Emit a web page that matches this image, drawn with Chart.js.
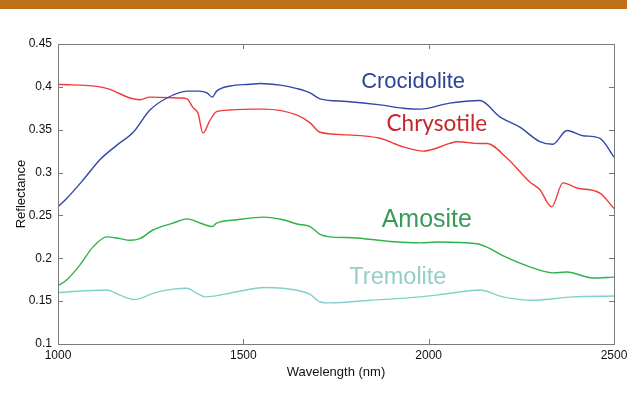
<!DOCTYPE html>
<html><head><meta charset="utf-8">
<script src="https://cdn.jsdelivr.net/npm/chart.js@4.4.0/dist/chart.umd.min.js"></script>
<style>
html,body{margin:0;padding:0;background:#fff;}
#banner{position:absolute;left:0;top:0;width:627px;height:9px;background:#BE7119;}
#wrap{position:absolute;left:0;top:0;width:627px;height:397px;}
</style></head>
<body>
<div id="wrap"><canvas id="c" width="627" height="397"></canvas></div>
<div id="banner"></div>
<script>
const xTicks = [1000, 1500, 2000, 2500];
const yTicks = [0.1, 0.15, 0.2, 0.25, 0.3, 0.35, 0.4, 0.45];

const crocidoliteX = [1000,1024,1067,1113,1159,1203,1248,1294,1348,1380,1402,1416,1428,1464,1518,1545,1600,1645,1680,1707,1779,1869,1931,1977,2057,2138,2192,2246,2300,2335,2373,2416,2462,2500];
const crocidoliteY = [0.260,0.270,0.291,0.315,0.332,0.347,0.373,0.387,0.395,0.395,0.393,0.388,0.395,0.401,0.403,0.404,0.402,0.398,0.393,0.386,0.383,0.379,0.375,0.374,0.381,0.384,0.365,0.353,0.336,0.333,0.349,0.343,0.340,0.318];

const chrysotileX = [1000,1113,1140,1194,1221,1248,1329,1348,1364,1378,1391,1410,1428,1464,1518,1555,1645,1680,1707,1779,1869,1931,1985,2057,2076,2138,2157,2211,2273,2300,2332,2362,2400,2462,2500];
const chrysotileY = [0.403,0.400,0.397,0.387,0.385,0.388,0.387,0.386,0.376,0.369,0.346,0.361,0.371,0.373,0.374,0.374,0.367,0.358,0.347,0.344,0.340,0.330,0.325,0.334,0.336,0.334,0.334,0.317,0.289,0.280,0.260,0.288,0.282,0.276,0.258];

const amositeX = [1000,1024,1059,1094,1132,1167,1194,1221,1256,1310,1348,1391,1416,1428,1483,1555,1607,1645,1680,1707,1734,1796,1887,1977,2022,2130,2157,2200,2273,2335,2373,2443,2500];
const amositeY = [0.168,0.175,0.192,0.213,0.225,0.223,0.221,0.223,0.233,0.241,0.246,0.240,0.237,0.241,0.245,0.248,0.245,0.240,0.237,0.228,0.225,0.224,0.220,0.218,0.219,0.217,0.213,0.203,0.190,0.183,0.184,0.177,0.178];

const tremoliteX = [1000,1132,1167,1203,1221,1256,1310,1348,1375,1397,1483,1555,1607,1661,1680,1707,1734,1842,1977,2039,2138,2200,2281,2389,2500];
const tremoliteY = [0.160,0.163,0.157,0.152,0.153,0.159,0.164,0.165,0.159,0.155,0.161,0.166,0.165,0.161,0.158,0.149,0.148,0.151,0.155,0.158,0.163,0.155,0.151,0.155,0.156];

const seriesNames = ['Crocidolite','Chrysotile','Amosite','Tremolite'];
const lineColors = ['#3347A8','#F03A3A','#2DB34A','#80D2C8'];
const textColors = ['#2E4592','#C4262B','#3A9A5A','#93CFC5'];
const labelPos = [[1958,0.4057],[2022,0.3567],[1995,0.2447],[1917,0.177]];

function pts(xs, ys){ return xs.map((x,i)=>({x:x,y:ys[i]})); }
const allX=[crocidoliteX,chrysotileX,amositeX,tremoliteX];
const allY=[crocidoliteY,chrysotileY,amositeY,tremoliteY];

const datasets = seriesNames.map((n,i)=>({
  label:n, data:pts(allX[i],allY[i]), borderColor:lineColors[i], borderWidth:1.4,
  pointRadius:0, fill:false, cubicInterpolationMode:'monotone'
}));

const FONT = '"Liberation Sans", Arial, sans-serif';

const frame = {
  id:'frame',
  afterDatasetsDraw(chart){
    const {ctx, chartArea:a, scales:{x,y}} = chart;
    ctx.save();
    ctx.strokeStyle='#7a7a7a'; ctx.lineWidth=1;
    ctx.strokeRect(Math.round(a.left)+0.5, Math.round(a.top)+0.5, Math.round(a.right-a.left), Math.round(a.bottom-a.top));
    ctx.beginPath();
    xTicks.forEach(v=>{ const px=Math.round(x.getPixelForValue(v))+0.5;
      ctx.moveTo(px,a.bottom); ctx.lineTo(px,a.bottom-5);
      ctx.moveTo(px,a.top); ctx.lineTo(px,a.top+5); });
    yTicks.forEach(v=>{ const py=Math.round(y.getPixelForValue(v))+0.5;
      ctx.moveTo(a.left,py); ctx.lineTo(a.left+5,py);
      ctx.moveTo(a.right,py); ctx.lineTo(a.right-5,py); });
    ctx.stroke();
    const fonts=['22px "Liberation Sans", Arial, sans-serif','22.5px Lato, "Open Sans", sans-serif','25px "Liberation Sans", Arial, sans-serif','23.5px "Liberation Sans", Arial, sans-serif'];
    ctx.textAlign='center'; ctx.textBaseline='middle';
    seriesNames.forEach((n,i)=>{
      ctx.font=fonts[i]; ctx.fillStyle=textColors[i];
      ctx.fillText(n, x.getPixelForValue(labelPos[i][0]), y.getPixelForValue(labelPos[i][1]));
    });
    ctx.restore();
  }
};

new Chart(document.getElementById('c'), {
  type:'line',
  data:{datasets},
  options:{
    responsive:false, animation:false,
    layout:{padding:{top:44,right:13,left:14,bottom:17}},
    plugins:{legend:{display:false}, tooltip:{enabled:false}},
    scales:{
      x:{type:'linear', min:1000, max:2500,
        afterBuildTicks(s){ s.ticks = xTicks.map(v=>({value:v})); },
        afterFit(s){ s.height = 36; s.paddingLeft = 0; s.paddingRight = 0; },
        grid:{display:false, drawTicks:false}, border:{display:false},
        ticks:{padding:4, color:'#111', font:{family:FONT,size:12}, maxRotation:0, autoSkip:false, callback:v=>String(v)},
        title:{display:true, text:'Wavelength (nm)', color:'#111', font:{family:FONT,size:13}, padding:{top:2,bottom:0}}
      },
      y:{type:'linear', min:0.1, max:0.45,
        afterBuildTicks(s){ s.ticks = yTicks.map(v=>({value:v})); },
        afterFit(s){ s.width = 44; s.paddingTop = 0; s.paddingBottom = 0; },
        grid:{display:false, drawTicks:false}, border:{display:false},
        ticks:{padding:6, color:'#111', font:{family:FONT,size:12}, autoSkip:false, callback:v=>String(+v.toFixed(2))},
        title:{display:true, text:'Reflectance', color:'#111', font:{family:FONT,size:13}, padding:{top:0,bottom:0}}
      }
    }
  },
  plugins:[frame]
});
</script>
</body></html>
